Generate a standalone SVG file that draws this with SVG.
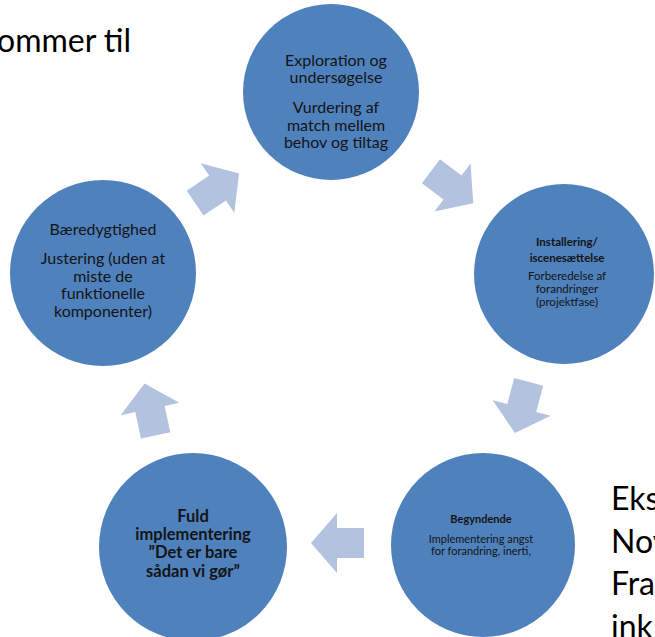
<svg xmlns="http://www.w3.org/2000/svg" width="655" height="637" viewBox="0 0 655 637">
<defs>
<style>
.node{fill:#4f81bd}
.arr{fill:#b3c3df}
.t{font-family:Lato,"Liberation Sans",sans-serif;fill:#141414;text-anchor:middle}
.big{font-family:Lato,"Liberation Sans",sans-serif;fill:#000;font-size:32px}
</style>
<polygon id="arrowShape" points="0,-30 26,0 0,30 0,15 -27,15 -27,-15 0,-15"/>
</defs>
<rect width="655" height="637" fill="#fff"/>
<text class="big" x="-3" y="52">ommer til</text>
<g id="connectors">
<use href="#arrowShape" class="arr" transform="translate(217.5,188) rotate(-34)"/>
<use href="#arrowShape" class="arr" transform="translate(452.5,187.5) rotate(37)"/>
<use href="#arrowShape" class="arr" transform="translate(521.7,408) rotate(105)"/>
<use href="#arrowShape" class="arr" transform="translate(337,543) rotate(180)"/>
<use href="#arrowShape" class="arr" transform="translate(150,409) rotate(-102)"/>
</g>
<g id="node-exploration">
<circle class="node" cx="331" cy="92" r="88"/>
<text class="t" font-size="16" x="336" y="66">Exploration og</text>
<text class="t" font-size="16" x="336" y="83">undersøgelse</text>
<text class="t" font-size="16" x="336" y="113">Vurdering af</text>
<text class="t" font-size="16" x="336" y="131">match mellem</text>
<text class="t" font-size="16" x="336" y="148">behov og tiltag</text>
</g>
<g id="node-installering">
<circle class="node" cx="564" cy="274" r="90"/>
<text class="t" font-size="11.5" font-weight="bold" x="567" y="246">Installering/</text>
<text class="t" font-size="11.5" font-weight="bold" x="567" y="262">iscenesættelse</text>
<text class="t" font-size="11.5" x="567" y="280">Forberedelse af</text>
<text class="t" font-size="11.5" x="567" y="293">forandringer</text>
<text class="t" font-size="11.5" x="567" y="306">(projektfase)</text>
</g>
<g id="node-begyndende">
<circle class="node" cx="483" cy="545" r="92"/>
<text class="t" font-size="11" font-weight="bold" x="481" y="523">Begyndende</text>
<text class="t" font-size="11" x="481" y="543">Implementering angst</text>
<text class="t" font-size="11" x="481" y="555">for forandring, inerti,</text>
</g>
<g id="node-fuld">
<circle class="node" cx="193" cy="547" r="94"/>
<text class="t" font-size="16.5" font-weight="bold" x="193" y="522">Fuld</text>
<text class="t" font-size="16.5" font-weight="bold" x="193" y="540">implementering</text>
<text class="t" font-size="16.5" font-weight="bold" x="193" y="558">”Det er bare</text>
<text class="t" font-size="16.5" font-weight="bold" x="193" y="577">sådan vi gør”</text>
</g>
<g id="node-baeredygtighed">
<circle class="node" cx="103" cy="273" r="93"/>
<text class="t" font-size="16" x="103" y="235">Bæredygtighed</text>
<text class="t" font-size="16" x="103" y="264">Justering (uden at</text>
<text class="t" font-size="16" x="103" y="282">miste de</text>
<text class="t" font-size="16" x="103" y="299">funktionelle</text>
<text class="t" font-size="16" x="103" y="317">komponenter)</text>
</g>
<text class="big" x="611" y="510">Eks</text>
<text class="big" x="611" y="553">Nov</text>
<text class="big" x="611" y="595">Fra</text>
<text class="big" x="611" y="638">ink</text>
</svg>
